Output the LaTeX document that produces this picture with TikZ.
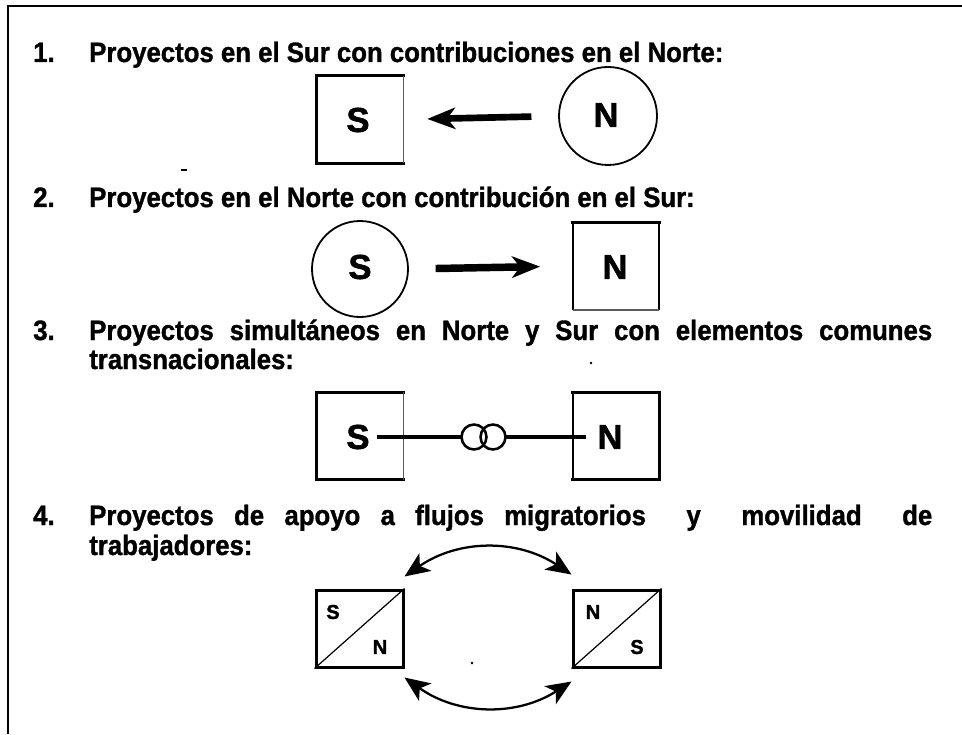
\documentclass[tikz,border=0pt]{standalone}
\usepackage{fontspec}
\setmainfont{Liberation Sans}[BoldFeatures={FakeBold=1.6}]
\newfontfamily\titlefont{Liberation Sans}[FakeStretch=0.92, BoldFeatures={FakeBold=1.2}]
\usetikzlibrary{arrows.meta,calc}
\tikzset{
  ttl/.style={anchor=base west, inner sep=0pt, font=\titlefont\bfseries\fontsize{21pt}{25pt}\selectfont},
  big/.style={inner sep=0pt, font=\bfseries\fontsize{26pt}{30pt}\selectfont},
  small/.style={inner sep=0pt, font=\bfseries\fontsize{15pt}{18pt}\selectfont},
  boxn/.style={rectangle, draw=none, minimum width=64.5pt, minimum height=65.25pt, inner sep=0pt},
  thk/.style={line width=2pt, line cap=rect},
  thn/.style={line width=1.1pt, draw=black!65},
  ring/.style={circle, draw, line width=1.35pt, inner sep=0pt},
  fatarrow/.style={line width=5pt, -{Stealth[length=21pt, width=16pt, inset=6pt]}},
  arcarrow/.style={line width=1.7pt, {Stealth[length=19pt, width=16pt, inset=5pt]}-{Stealth[length=19pt, width=16pt, inset=5pt]}},
  migbox/.style={rectangle, draw, line width=2.25pt, minimum width=65.25pt, minimum height=57.75pt, inner sep=0pt},
}
\begin{document}
\begin{tikzpicture}[x=0.75pt, y=0.75pt]
\useasboundingbox (0,0) rectangle (962,-734);
% frame
\draw[line width=1.6pt] (8,-734) -- (8,-6) -- (962,-6);

% ---- 1
\node[ttl] (num1) at (33,-62) {1.};
\node[ttl] (tit1) at (89,-62) {Proyectos en el Sur con contribuciones en el Norte:};
\node[boxn] (s1) at (360,-119.5) {};
\draw[thk] (s1.north east) -- (s1.north west) -- (s1.south west) -- (s1.south east);
\draw[thn] (s1.north east) -- (s1.south east);
\node[big] (s1t) at (358,-120) {S};
\node[ring, minimum size=73.5pt] (c1) at (608,-116) {};
\node[big] (n1t) at (606,-115) {N};
\draw[fatarrow, shorten <=20pt, shorten >=18pt] (c1.west) -- (s1.east);
\fill (181,-169) rectangle (187,-171);

% ---- 2
\node[ttl] (num2) at (33,-207) {2.};
\node[ttl] (tit2) at (89,-207) {Proyectos en el Norte con contribución en el Sur:};
\node[ring, minimum size=72pt] (c2) at (360,-269) {};
\node[big] (s2t) at (360,-267) {S};
\node[boxn] (n2) at (616,-266) {};
\draw[thk] (n2.north west) -- (n2.north east);
\draw[line width=1.4pt] (n2.north west) -- (n2.south west);
\draw[line width=1.4pt] (n2.north east) -- (n2.south east);
\draw[thn] (n2.south west) -- (n2.south east);
\node[big] (n2t) at (615,-267) {N};
\draw[fatarrow, line width=5.6pt, shorten <=20pt, shorten >=24.5pt] (c2.east) -- (n2.west);

% ---- 3
\node[ttl] (num3) at (33,-340) {3.};
\node[ttl] (tit3a) at (89,-340) {\makebox[632.25pt][s]{Proyectos simultáneos en Norte y Sur con elementos comunes}};
\node[ttl] (tit3b) at (89,-369) {transnacionales:};
\fill (591,-363) circle (1.1pt);
\node[boxn] (s3) at (360,-436) {};
\draw[thk] (s3.north east) -- (s3.north west) -- (s3.south west) -- (s3.south east);
\draw[thn] (s3.north east) -- (s3.south east);
\node[boxn] (n3) at (616,-436) {};
\draw[thk] (n3.north west) -- (n3.north east) -- (n3.south east) -- (n3.south west);
\draw[line width=1.2pt] (n3.north west) -- (n3.south west);
\node[big] (s3t) at (358,-437) {S};
\node[big] (n3t) at (610,-437) {N};
\draw[line width=3.6pt, shorten <=5pt, shorten >=8.5pt] (s3t.east) -- (n3t.west);
\fill[white] (474,-437) circle (9.4pt);
\fill[white] (493,-437) circle (9.4pt);
\node[ring, line width=1.9pt, minimum size=18.75pt] (r1) at (474,-437) {};
\node[ring, line width=1.9pt, minimum size=18.75pt] (r2) at (493,-437) {};

% ---- 4
\node[ttl] (num4) at (33,-525) {4.};
\node[ttl] (tit4a) at (89,-525) {\makebox[632.25pt][s]{Proyectos de apoyo a flujos migratorios \ y \ movilidad \ de}};
\node[ttl] (tit4b) at (89,-555) {trabajadores:};
\node[migbox] (b4l) at (359.5,-628.5) {};
\node[migbox] (b4r) at (616.5,-628.5) {};
\draw[line width=0.9pt] (b4l.south west) -- (b4l.north east);
\draw[line width=0.9pt] (b4r.south west) -- (b4r.north east);
\node[small] (b4ls) at (333,-612) {S};
\node[small] (b4ln) at (380,-647) {N};
\node[small] (b4rn) at (593,-612) {N};
\node[small] (b4rs) at (637,-647) {S};
\coordinate (a1) at ($(b4l.north east)+(0,12)$);
\coordinate (a2) at ($(b4r.north west)+(0,14)$);
\coordinate (a3) at ($(b4l.south east)+(0,-9)$);
\coordinate (a4) at ($(b4r.south west)+(0,-13)$);
\draw[arcarrow] (a1) to[bend left=34] (a2);
\draw[arcarrow] (a3) to[bend right=34] (a4);
\fill (472,-663) circle (1pt);
\end{tikzpicture}
\end{document}
